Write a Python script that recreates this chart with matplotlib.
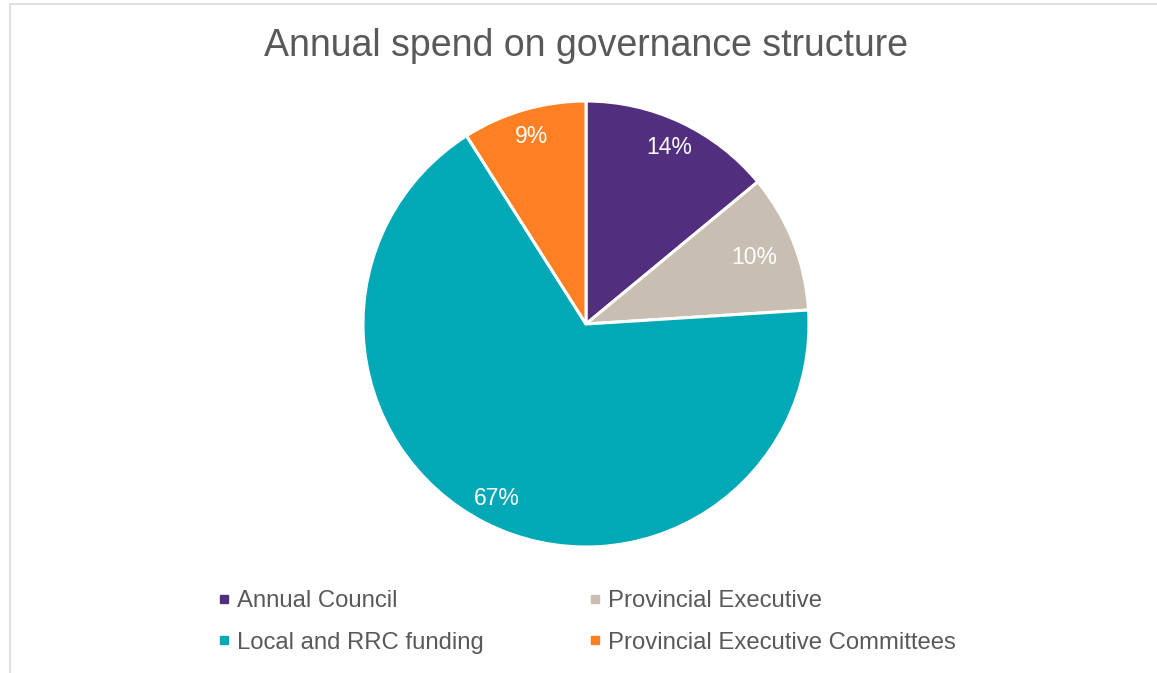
import numpy as np
import matplotlib.pyplot as plt
from matplotlib.lines import Line2D
from matplotlib.patches import Rectangle

plt.rcParams['font.family'] = ['Liberation Sans', 'DejaVu Sans']

categories = ['Annual Council', 'Provincial Executive', 'Local and RRC funding',
              'Provincial Executive Committees']
shares = [14, 10, 67, 9]
colors = ['#522E7E', '#C8BEB1', '#00A9B5', '#FF8023']
label_dist = [0.875, 0.81, 0.88, 0.875]

text_grey = '#595959'

fig = plt.figure(figsize=(11.57, 6.73), dpi=100)

# light frame around the chart area
fig.patches.append(Rectangle((10 / 1157, -0.05), 1.1, 0.05 + 669 / 673,
                             transform=fig.transFigure, fill=False,
                             edgecolor='#D9D9D9', linewidth=1.2))

# pie centred at (586, 324) px, radius 223 px
cx, cy, r = 586, 324, 223
ax = fig.add_axes([(cx - r) / 1157, (673 - cy - r) / 673, 2 * r / 1157, 2 * r / 673])

wedges, texts, autotexts = ax.pie(
    shares, colors=colors, startangle=90, counterclock=False,
    autopct='%1.0f%%', pctdistance=0.88,
    wedgeprops=dict(edgecolor='white', linewidth=2.2),
    textprops=dict(color='white', fontsize=16.5))

for w, t, d in zip(wedges, autotexts, label_dist):
    ang = np.deg2rad((w.theta1 + w.theta2) / 2)
    t.set_position((d * np.cos(ang), d * np.sin(ang)))

ax.set_xlim(-1, 1)
ax.set_ylim(-1, 1)
ax.set_aspect('equal')
ax.axis('off')

fig.text(cx / 1157, 1 - 46 / 673, 'Annual spend on governance structure',
         ha='center', va='center', fontsize=27, color=text_grey)

# legend laid out in two rows
order = [0, 2, 1, 3]
handles = [Line2D([], [], marker='s', linestyle='none', markersize=6,
                  markerfacecolor=colors[i], markeredgecolor=colors[i]) for i in order]
fig.legend(handles, [categories[i] for i in order], ncol=2,
           loc='center left', bbox_to_anchor=(218 / 1157, 1 - 622 / 673),
           frameon=False, fontsize=17.2, labelcolor=text_grey,
           handlelength=0.5, handletextpad=0.3, columnspacing=4.4,
           labelspacing=0.8, borderpad=0, borderaxespad=0)

fig.savefig('out.png', dpi=100)
